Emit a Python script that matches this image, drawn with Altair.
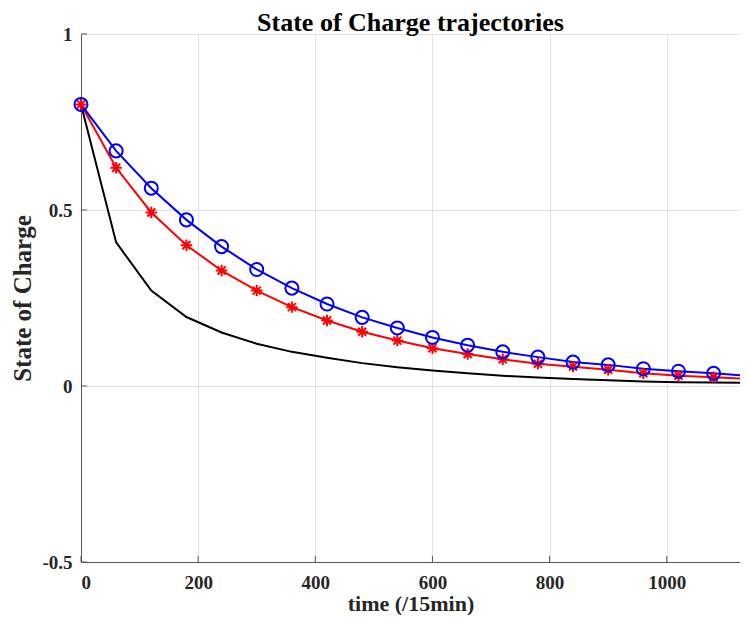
import altair as alt
import pandas as pd

time_steps = [0, 60, 120, 180, 240, 300, 360, 420, 480, 540, 600, 660, 720, 780, 840, 900, 960, 1020, 1080, 1140]
soc_blue = [0.80, 0.668, 0.562, 0.472, 0.396, 0.331, 0.278, 0.233, 0.195, 0.165, 0.138, 0.116, 0.097, 0.082, 0.068, 0.060, 0.049, 0.042, 0.036, 0.029]
soc_red = [0.80, 0.620, 0.493, 0.400, 0.328, 0.271, 0.224, 0.186, 0.154, 0.129, 0.107, 0.091, 0.076, 0.063, 0.055, 0.046, 0.036, 0.029, 0.025, 0.020]
soc_black = [0.80, 0.408, 0.271, 0.196, 0.152, 0.120, 0.097, 0.080, 0.065, 0.053, 0.044, 0.036, 0.029, 0.024, 0.020, 0.016, 0.013, 0.011, 0.010, 0.009]
x_ticks = [0, 200, 400, 600, 800, 1000]
y_ticks = [-0.5, 0, 0.5, 1]

W, H = 659, 528
FONT = "Liberation Serif"

df = pd.DataFrame({
    "t": time_steps * 3,
    "soc": soc_blue + soc_red + soc_black,
    "series": ["blue"] * len(time_steps) + ["red"] * len(time_steps) + ["black"] * len(time_steps),
})
xt = pd.DataFrame({"t": x_ticks})
yt = pd.DataFrame({"soc": y_ticks})

xscale = alt.Scale(domain=[0, 1125], nice=False, zero=False)
yscale = alt.Scale(domain=[-0.5, 1], nice=False, zero=False)
xaxis = alt.Axis(values=x_ticks, title="time (/15min)", labelExpr="toString(datum.value)",
                 labelPadding=11, titlePadding=1, titleFontSize=22, labelFontSize=19)
yaxis = alt.Axis(values=y_ticks, title="State of Charge", labelExpr="toString(datum.value)",
                 labelPadding=9, titlePadding=6, titleFontSize=25, labelFontSize=19)

X = alt.X("t:Q", scale=xscale, axis=xaxis)
Y = alt.Y("soc:Q", scale=yscale, axis=yaxis)

base = alt.Chart(df)

black_line = base.transform_filter(alt.datum.series == "black").mark_line(
    color="black", strokeWidth=2).encode(x=X, y=Y)
red_line = base.transform_filter(alt.datum.series == "red").mark_line(
    color="#ff0000", strokeWidth=2).encode(x=X, y=Y)
blue_line = base.transform_filter(alt.datum.series == "blue").mark_line(
    color="#0000ff", strokeWidth=2).encode(x=X, y=Y)

star = "M0,-1L0,1M-1,0L1,0M-0.7,-0.7L0.7,0.7M-0.7,0.7L0.7,-0.7"
red_pts = base.transform_filter(alt.datum.series == "red").mark_point(
    shape=star, color="#ff0000", filled=False, size=130, strokeWidth=2, opacity=1).encode(x=X, y=Y)
blue_pts = base.transform_filter(alt.datum.series == "blue").mark_point(
    shape="circle", color="#0000ff", filled=False, size=170, strokeWidth=2, opacity=1).encode(x=X, y=Y)

xtick_marks = alt.Chart(xt).mark_rule(color="#555555", strokeWidth=1).encode(
    x=X, y=alt.value(H), y2=alt.value(H - 6))
ytick_marks = alt.Chart(yt).mark_rule(color="#555555", strokeWidth=1).encode(
    y=Y, x=alt.value(0), x2=alt.value(6))

chart = alt.layer(
    black_line, red_line, blue_line, red_pts, blue_pts, xtick_marks, ytick_marks
).properties(
    width=W, height=H,
    title=alt.TitleParams("State of Charge trajectories", font=FONT, fontSize=26,
                          fontWeight="bold", anchor="middle", frame="group", offset=-11,
                          color="black"),
    autosize=alt.AutoSizeParams(type="none"),
    padding={"left": 73, "top": 26, "right": 0, "bottom": 53},
).configure_axis(
    domainColor="#555555", domainWidth=1, gridColor="#e2e2e2", gridWidth=1, ticks=False,
    labelFont=FONT, labelFontWeight="bold", labelColor="#262626",
    titleFont=FONT, titleFontWeight="bold", titleColor="#262626",
).configure_view(stroke=None)

chart.save("out.html", embed_options={"renderer": "svg", "actions": False})
